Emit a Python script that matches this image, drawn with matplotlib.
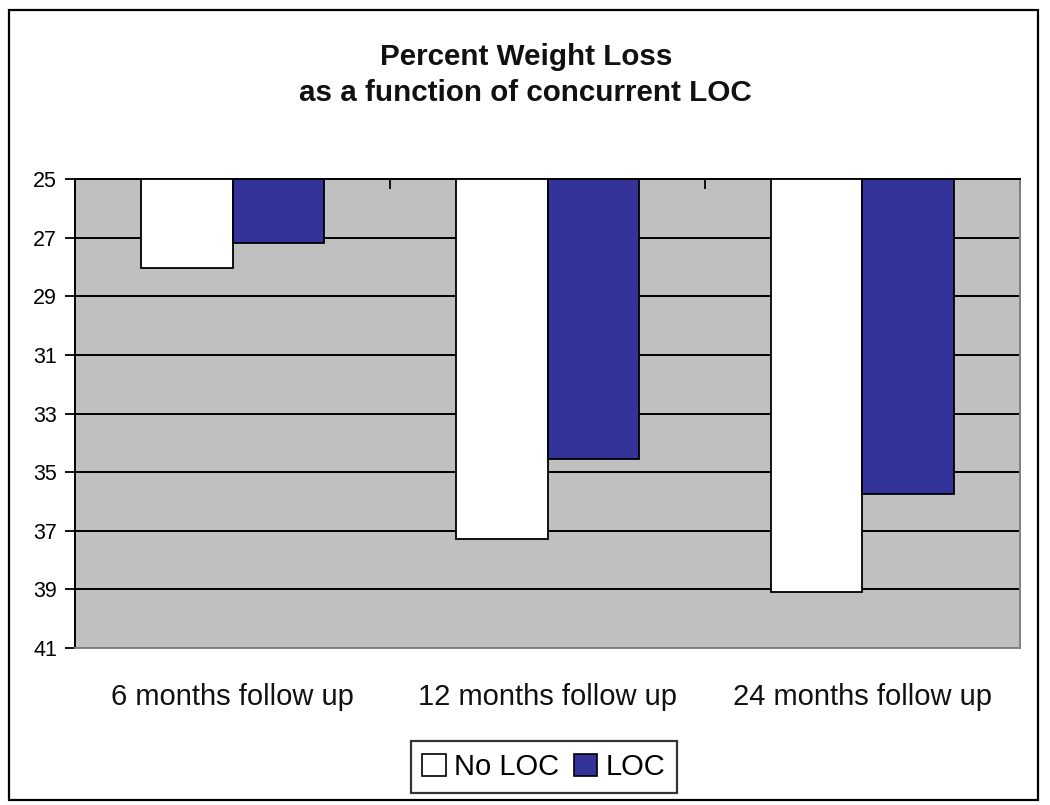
import matplotlib
matplotlib.use("Agg")
import matplotlib.pyplot as plt
from matplotlib.patches import Patch, Rectangle
import numpy as np

plt.rcParams['font.family'] = ['Liberation Sans', 'DejaVu Sans']

categories = ["6 months follow up", "12 months follow up", "24 months follow up"]
no_loc = [28.05, 37.27, 39.1]
loc = [27.17, 34.55, 35.76]
series_names = ["No LOC", "LOC"]
y_ticks = [25, 27, 29, 31, 33, 35, 37, 39, 41]
baseline = 25

W, H = 1050, 805
fig = plt.figure(figsize=(W / 100, H / 100), dpi=100)
fig.patch.set_facecolor("white")

# outer frame
fig.patches.append(Rectangle((9 / W, 1 - 800 / H), (1038 - 9) / W, (800 - 10) / H,
                             transform=fig.transFigure, fill=False,
                             edgecolor="black", linewidth=1.6, zorder=0))

left, right, top, bottom = 75, 1020, 179, 648
ax = fig.add_axes([left / W, 1 - bottom / H, (right - left) / W, (bottom - top) / H])
ax.set_facecolor("#C0C0C0")

x = np.arange(len(categories))
bw = 0.289
ax.bar(x - bw / 2, np.array(no_loc) - baseline, bottom=baseline, width=bw,
       color="white", edgecolor="black", linewidth=1.3, zorder=3)
ax.bar(x + bw / 2, np.array(loc) - baseline, bottom=baseline, width=bw,
       color="#333399", edgecolor="black", linewidth=1.3, zorder=3)

ax.set_ylim(41, 25)
ax.set_xlim(-0.5, len(categories) - 0.5)
ax.set_yticks(y_ticks)
ax.set_yticklabels([str(v) for v in y_ticks], fontsize=15.5)
ax.yaxis.grid(True, color="black", linewidth=1.4, zorder=1)
ax.set_axisbelow(True)
ax.tick_params(axis="y", direction="out", length=7, width=1.3, pad=6)

ax.set_xticks(x)
ax.set_xticklabels(categories, fontsize=21, color="#111111")
ax.tick_params(axis="x", which="major", length=0, pad=25)
ax.set_xticks(np.arange(-0.5, len(categories)), minor=True)
ax.tick_params(axis="x", which="minor", top=True, bottom=False, direction="in",
               length=7, width=1.3)

for s in ["left", "top"]:
    ax.spines[s].set_color("black")
    ax.spines[s].set_linewidth(1.4)
for s in ["right", "bottom"]:
    ax.spines[s].set_color("#808080")
    ax.spines[s].set_linewidth(1.4)

fig.text(526 / W, 1 - 65 / H, "Percent Weight Loss", ha="center", va="baseline",
         fontsize=21.3, fontweight="bold", color="#111111")
fig.text(525 / W, 1 - 101 / H, "as a function of concurrent LOC", ha="center", va="baseline",
         fontsize=21.3, fontweight="bold", color="#111111")

handles = [Patch(facecolor="white", edgecolor="black", linewidth=1.2),
           Patch(facecolor="#333399", edgecolor="black", linewidth=1.2)]
leg = fig.legend(handles, series_names, loc="center", bbox_to_anchor=(544 / W, 1 - 767 / H),
                 ncol=2, fontsize=21, frameon=True, fancybox=False, shadow=False,
                 handlelength=0.8, handleheight=0.8, handletextpad=0.3,
                 columnspacing=0.5, borderpad=0.4, borderaxespad=0)
leg.get_frame().set_edgecolor("black")
leg.get_frame().set_linewidth(1.6)

fig.savefig("out.png", dpi=100, facecolor="white")
